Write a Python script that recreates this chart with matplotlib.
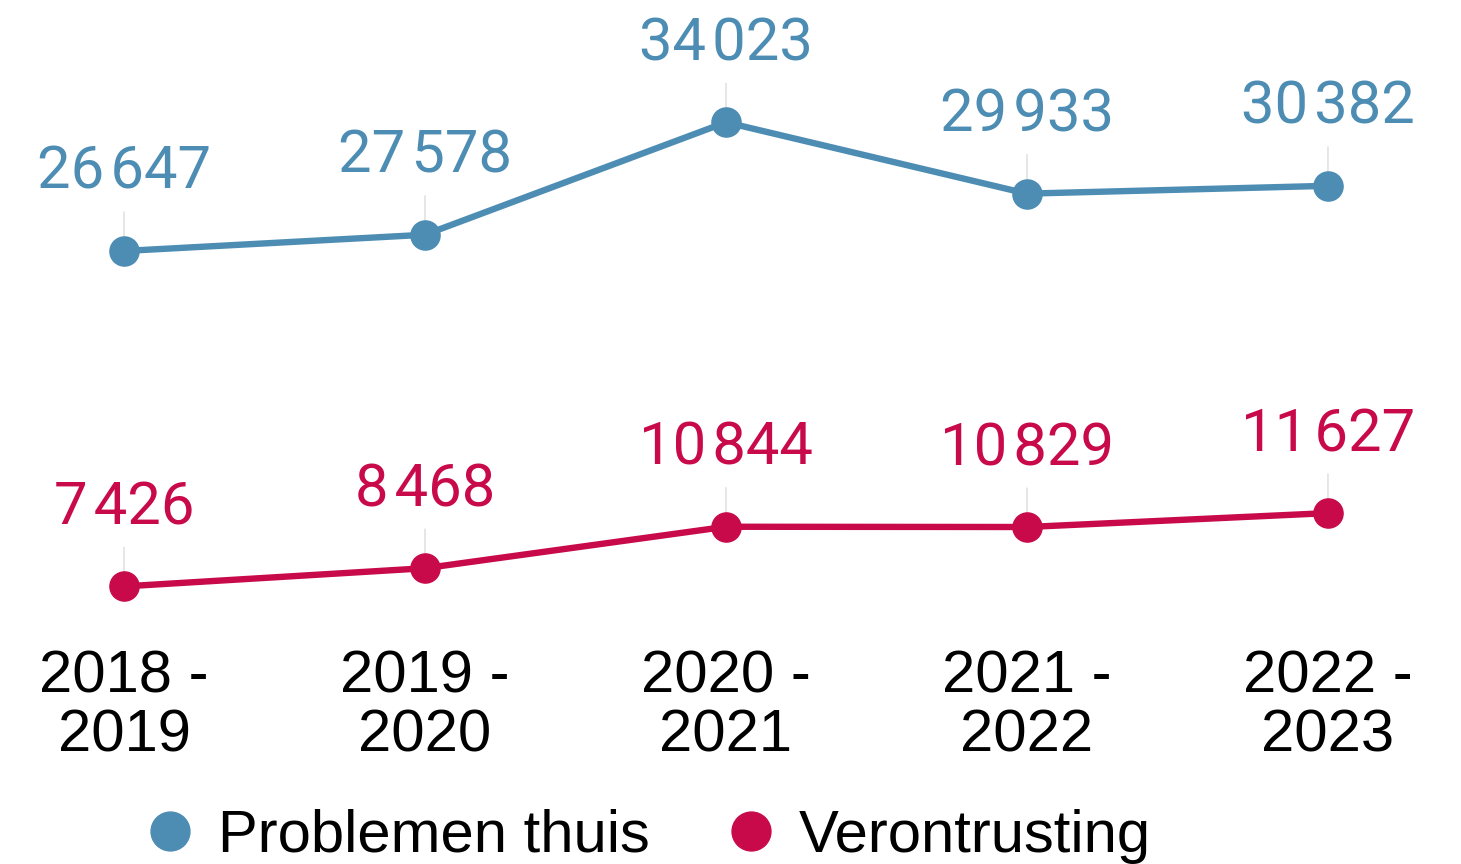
import numpy as np
import matplotlib
matplotlib.use('Agg')
import matplotlib.pyplot as plt
from matplotlib.lines import Line2D

# data
periods = ['2018 -\n2019', '2019 -\n2020', '2020 -\n2021', '2021 -\n2022', '2022 -\n2023']
problemen = [26647, 27578, 34023, 29933, 30382]
verontrusting = [7426, 8468, 10844, 10829, 11627]

blue = '#4d8db3'
red = '#c80a4b'

fig = plt.figure(figsize=(14.61, 8.64), dpi=100)
ax = fig.add_axes([0, 0.2824, 1, 0.7176])

x = np.arange(len(periods))

def fmt(v):
    return f'{v:,}'.replace(',', '\u200a')

for vals, col in [(problemen, blue), (verontrusting, red)]:
    ax.plot(x, vals, color=col, lw=4.6, marker='o', ms=21, zorder=3, solid_capstyle='round')
    for xi, v in zip(x, vals):
        ax.annotate(fmt(v), xy=(xi, v), xytext=(0, 36), textcoords='offset points',
                    ha='center', va='bottom', fontsize=43, color=col,
                    family=['Roboto', 'DejaVu Sans'],
                    arrowprops=dict(arrowstyle='-', color='#e2e2e2', lw=1.2,
                                    shrinkA=6, shrinkB=0), zorder=2)

ax.set_xlim(-0.412, 4.442)
ax.set_ylim(5500, 41030)
ax.set_xticks(x)
ax.set_xticklabels(periods, fontsize=43, family=['Liberation Sans', 'DejaVu Sans'],
                   linespacing=1.1)
ax.tick_params(axis='x', length=0, pad=21)
ax.set_yticks([])
for s in ax.spines.values():
    s.set_visible(False)

handles = [Line2D([], [], ls='none', marker='o', ms=28, color=blue),
           Line2D([], [], ls='none', marker='o', ms=28, color=red)]
fig.legend(handles, ['Problemen thuis', 'Verontrusting'], loc='lower center',
           bbox_to_anchor=(0.44, -0.062), ncol=2, frameon=False,
           prop={'family': 'Liberation Sans', 'size': 43},
           handletextpad=0.2, columnspacing=1.1, handlelength=1.2)

fig.savefig('out.png', dpi=100)
